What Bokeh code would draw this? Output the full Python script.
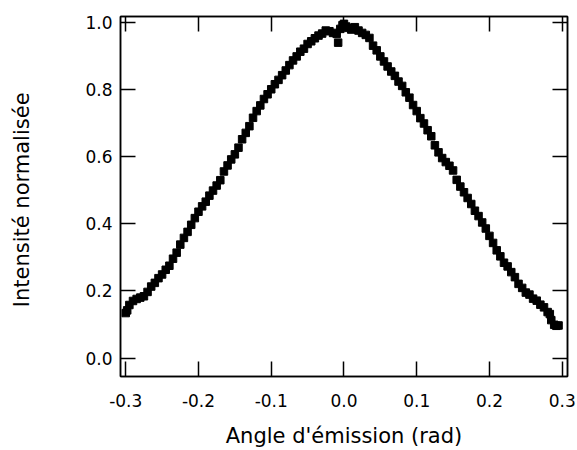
from bokeh.plotting import figure
from bokeh.models import (Range1d, LinearAxis, FixedTicker, NumeralTickFormatter,
                          CustomLabelingPolicy, CustomJSTickFormatter)
from bokeh.embed import file_html
from bokeh.resources import INLINE

# Emission angle (rad) and normalised intensity
angle = [
    -0.300, -0.298, -0.295, -0.290, -0.285, -0.280, -0.275, -0.270, -0.265, -0.260,
    -0.255, -0.250, -0.245, -0.240, -0.235, -0.230, -0.225, -0.220, -0.215, -0.210,
    -0.205, -0.200, -0.195, -0.190, -0.185, -0.180, -0.175, -0.170, -0.165, -0.160,
    -0.155, -0.150, -0.145, -0.140, -0.135, -0.130, -0.125, -0.120, -0.115, -0.110,
    -0.105, -0.100, -0.095, -0.090, -0.085, -0.080, -0.075, -0.070, -0.065, -0.060,
    -0.055, -0.050, -0.045, -0.040, -0.035, -0.030, -0.025, -0.020, -0.015, -0.010,
    -0.008, -0.005, -0.002, 0.000, 0.003, 0.006, 0.010, 0.015, 0.020, 0.025,
    0.030, 0.035, 0.040, 0.045, 0.050, 0.055, 0.060, 0.065, 0.070, 0.075,
    0.080, 0.085, 0.090, 0.095, 0.100, 0.105, 0.110, 0.115, 0.120, 0.125,
    0.130, 0.135, 0.140, 0.145, 0.150, 0.155, 0.160, 0.165, 0.170, 0.175,
    0.180, 0.185, 0.190, 0.195, 0.200, 0.205, 0.210, 0.215, 0.220, 0.225,
    0.230, 0.235, 0.240, 0.245, 0.250, 0.255, 0.260, 0.265, 0.270, 0.275,
    0.280, 0.283, 0.285, 0.289, 0.292, 0.295,
]
intensity = [
    0.134, 0.142, 0.158, 0.170, 0.176, 0.180, 0.184, 0.197, 0.213, 0.224,
    0.238, 0.249, 0.263, 0.275, 0.296, 0.314, 0.338, 0.358, 0.376, 0.397,
    0.417, 0.436, 0.452, 0.466, 0.484, 0.499, 0.514, 0.530, 0.556, 0.574,
    0.592, 0.607, 0.627, 0.652, 0.671, 0.691, 0.716, 0.736, 0.753, 0.772,
    0.786, 0.801, 0.816, 0.829, 0.843, 0.857, 0.873, 0.887, 0.899, 0.913,
    0.922, 0.936, 0.944, 0.953, 0.961, 0.967, 0.976, 0.974, 0.969, 0.966,
    0.940, 0.981, 0.992, 0.996, 0.988, 0.984, 0.979, 0.986, 0.976, 0.969,
    0.963, 0.954, 0.931, 0.917, 0.899, 0.884, 0.869, 0.854, 0.841, 0.824,
    0.811, 0.792, 0.776, 0.754, 0.736, 0.715, 0.699, 0.679, 0.661, 0.634,
    0.613, 0.596, 0.584, 0.573, 0.559, 0.531, 0.511, 0.494, 0.477, 0.459,
    0.439, 0.423, 0.404, 0.386, 0.364, 0.343, 0.321, 0.303, 0.284, 0.273,
    0.256, 0.241, 0.221, 0.209, 0.195, 0.189, 0.177, 0.171, 0.159, 0.151,
    0.137, 0.131, 0.113, 0.099, 0.096, 0.097,
]
x_ticks = [-0.3, -0.2, -0.1, 0.0, 0.1, 0.2, 0.3]
y_ticks = [0.0, 0.2, 0.4, 0.6, 0.8, 1.0]

FONT = "DejaVu Sans"

p = figure(
    width=577, height=450,
    output_backend="svg", toolbar_location=None,
    x_range=Range1d(-0.3072, 0.3073), y_range=Range1d(-0.0551, 1.0179),
    min_border_left=120, min_border_right=10, min_border_top=16, min_border_bottom=74,
    x_axis_label="Angle d'émission (rad)", y_axis_label="Intensité  normalisée",
)
p.grid.visible = False
p.outline_line_color = "black"
p.outline_line_width = 1.5
p.background_fill_color = "white"
p.border_fill_color = "white"

p.scatter(angle, intensity, marker="square", size=7.5, color="black")

top = LinearAxis()
right = LinearAxis()
p.add_layout(top, "above")
p.add_layout(right, "right")

for ax in p.xaxis:
    ax.ticker = FixedTicker(ticks=x_ticks)
for ax in p.yaxis:
    ax.ticker = FixedTicker(ticks=y_ticks)

for ax in p.xaxis + p.yaxis:
    ax.formatter = NumeralTickFormatter(format="0.0")
    ax.major_tick_in = 15
    ax.major_tick_out = 0
    ax.minor_tick_in = 0
    ax.minor_tick_out = 0
    ax.axis_line_width = 1.5
    ax.major_tick_line_width = 1.5
    ax.axis_line_color = "black"
    ax.major_tick_line_color = "black"
    ax.major_label_text_font = FONT
    ax.major_label_text_font_size = "17px"
    ax.major_label_text_color = "black"
    ax.axis_label_text_font = FONT
    ax.axis_label_text_font_size = "21px"
    ax.axis_label_text_font_style = "normal"
    ax.axis_label_text_color = "black"

# mirrored axes: ticks only, no labels
for ax in (top, right):
    ax.formatter = CustomJSTickFormatter(code="return ''")
    ax.major_label_policy = CustomLabelingPolicy(
        code="for (const i of [...indices]) { indices.unset(i) } return indices")
    ax.major_label_standoff = 0

p.below[0].major_label_standoff = 17
p.below[0].axis_label_standoff = 14
p.left[0].major_label_standoff = 8
p.left[0].axis_label_standoff = 48

open("out.html", "w").write(file_html(p, INLINE))
